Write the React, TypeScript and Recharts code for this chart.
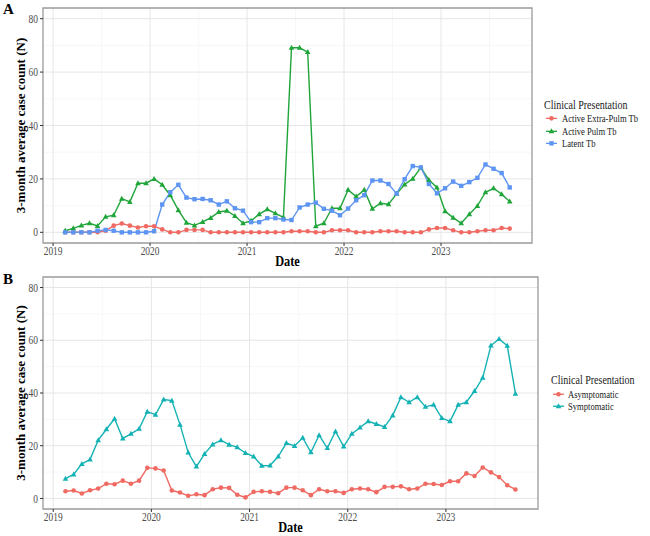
import React from 'react';
import {
  LineChart,
  Line,
  XAxis,
  YAxis,
  CartesianGrid,
  ReferenceArea,
  Legend,
  Label,
} from 'recharts';

// ---- time axis: monthly points, Feb 2019 .. Sep 2023 (plotted at mid-month) ----
const START_YEAR = 2019;
const START_MONTH = 2;
const N_MONTHS = 56;
const monthPositions: number[] = Array.from({ length: N_MONTHS }, (_, i) => {
  const m = START_MONTH - 1 + i;
  return START_YEAR + Math.floor(m / 12) + ((m % 12) + 0.5) / 12;
});

const yearTicks = [2019, 2020, 2021, 2022, 2023];
const halfYearLines = [2019.5, 2020.5, 2021.5, 2022.5, 2023.5];
const countTicks = [0, 20, 40, 60, 80];
const countMinor = [10, 30, 50, 70];

// ---- panel A: 3-month average case counts by clinical presentation ----
const extraPulmTb = [
  0, 0, 0, 0, 0, 0.6, 2.5, 3.3, 2.5, 1.8,
  2.3, 2.3, 1.1, 0, 0, 0.9, 0.9, 0.9, 0, 0,
  0, 0, 0, 0, 0, 0, 0, 0, 0.4, 0.4,
  0.4, 0, 0, 0.75, 0.75, 0.75, 0, 0, 0, 0.4,
  0.4, 0.4, 0, 0, 0, 1.1, 1.6, 1.6, 0.75, 0,
  0, 0.4, 0.75, 0.75, 1.6, 1.4,
];
const pulmTb = [
  0.6, 1.5, 2.6, 3.4, 2.4, 5.8, 6.4, 12.6, 11.4, 18.4,
  18.4, 20.0, 17.8, 13.9, 8.3, 3.6, 2.6, 3.9, 5.4, 7.6,
  8.1, 6.1, 3.4, 4.3, 6.8, 8.6, 7.1, 5.6, 69.1, 69.1,
  67.5, 2.3, 3.4, 9.0, 9.0, 15.9, 13.4, 15.9, 8.8, 10.9,
  10.5, 14.4, 17.9, 20.1, 24.2, 19.6, 16.8, 7.9, 5.5, 3.4,
  6.8, 9.9, 15.0, 16.5, 14.3, 11.5,
];
const latentTb = [
  0, 0, 0, 0, 0.6, 0.9, 0.6, 0, 0, 0,
  0, 0.4, 10.4, 15.0, 17.8, 13.0, 12.4, 12.5, 12.0, 10.4,
  11.6, 9.0, 8.1, 3.8, 3.8, 5.3, 5.3, 4.8, 4.6, 9.3,
  10.4, 11.1, 8.8, 8.1, 6.4, 8.9, 12.0, 13.9, 19.4, 19.4,
  18.1, 14.5, 19.9, 24.8, 24.3, 18.1, 14.6, 16.5, 19.0, 17.4,
  18.8, 20.4, 25.4, 23.8, 22.2, 16.8,
];

// ---- panel B: 3-month average case counts by symptom status ----
const asymptomatic = [
  2.75, 3, 1.9, 3.1, 3.75, 5.6, 5.4, 6.75, 5.6, 6.75,
  11.6, 11.4, 10.6, 3, 2.25, 1, 1.6, 1.25, 3.5, 4.1,
  4, 1.4, 0.4, 2.5, 2.75, 2.5, 2, 4.1, 4.1, 3.1,
  1.25, 3.5, 2.75, 2.75, 2.1, 3.5, 3.75, 3.5, 2.4, 4.4,
  4.4, 4.6, 3.5, 3.75, 5.6, 5.5, 5.1, 6.5, 6.5, 9.5,
  8.5, 11.75, 9.9, 8.1, 5, 3.4,
];
const symptomatic = [
  7.5, 9.1, 13.1, 14.75, 22.1, 26.25, 30.25, 22.75, 24.5, 26.4,
  32.9, 31.75, 37.5, 37.1, 28, 17.4, 12.1, 16.9, 20.5, 22.1,
  20.4, 19.4, 17.25, 15.9, 12.4, 12.5, 15.9, 21, 19.9, 23,
  17.5, 24, 19.1, 25.4, 19.75, 24.5, 26.9, 29.25, 28.25, 27.1,
  31.5, 38.4, 36.5, 38.4, 34.75, 35.5, 30.5, 29.25, 35.5, 36.5,
  40.75, 45.75, 58, 60.5, 57.9, 39.75,
];

const legendTitle = 'Clinical Presentation';

type Shape = 'circle' | 'triangle' | 'square';
type Series = { key: string; name: string; color: string; shape: Shape; values: number[] };

const seriesA: Series[] = [
  { key: 'extra', name: 'Active Extra-Pulm Tb', color: '#ef6a62', shape: 'circle', values: extraPulmTb },
  { key: 'pulm', name: 'Active Pulm Tb', color: '#1fa53a', shape: 'triangle', values: pulmTb },
  { key: 'latent', name: 'Latent Tb', color: '#5e95f2', shape: 'square', values: latentTb },
];
const seriesB: Series[] = [
  { key: 'asym', name: 'Asymptomatic', color: '#ef6a62', shape: 'circle', values: asymptomatic },
  { key: 'sym', name: 'Symptomatic', color: '#14b2b5', shape: 'triangle', values: symptomatic },
];

const buildRows = (series: Series[]) =>
  monthPositions.map((t, i) => {
    const row: Record<string, number> = { t };
    series.forEach((s) => {
      row[s.key] = s.values[i];
    });
    return row;
  });

const X_DOMAIN: [number, number] = [2018.896, 2023.938];
const Y_DOMAIN: [number, number] = [-4, 84];
const FONT = 'Liberation Serif';
// the typeface is set a little narrower than its natural width
const SQUEEZE = 0.82;

function Marker({ cx, cy, color, shape }: { cx: number; cy: number; color: string; shape: Shape }) {
  if (cx == null || cy == null || Number.isNaN(cx) || Number.isNaN(cy)) return null;
  if (shape === 'circle') return <circle cx={cx} cy={cy} r={2.3} fill={color} />;
  if (shape === 'square') return <rect x={cx - 2.2} y={cy - 2.2} width={4.4} height={4.4} fill={color} />;
  return <polygon points={`${cx},${cy - 3} ${cx - 2.8},${cy + 2} ${cx + 2.8},${cy + 2}`} fill={color} />;
}

const dotRenderer = (s: Series) => (props: any) => (
  <Marker key={`${s.key}-${props.index}`} cx={props.cx} cy={props.cy} color={s.color} shape={s.shape} />
);

function XTick(props: any) {
  const { x, y, payload } = props;
  return (
    <g transform={`translate(${x},${y})`}>
      <text
        transform={`scale(${SQUEEZE},1)`}
        textAnchor="middle"
        dy="0.71em"
        fontFamily={FONT}
        fontSize={11.5}
        fill="#4d4d4d"
      >
        {payload.value}
      </text>
    </g>
  );
}

function YTick(props: any) {
  const { x, y, payload } = props;
  return (
    <g transform={`translate(${x},${y})`}>
      <text
        transform={`scale(${SQUEEZE},1)`}
        textAnchor="end"
        dy="0.355em"
        fontFamily={FONT}
        fontSize={11.5}
        fill="#4d4d4d"
      >
        {payload.value}
      </text>
    </g>
  );
}

const squeezed = (scale: number): React.CSSProperties => ({
  display: 'inline-block',
  transform: `scaleX(${scale})`,
  transformOrigin: 'left center',
});

function LegendBox({
  series,
  titleHeight,
  rowHeight,
  keyOffset,
  textGap,
}: {
  series: Series[];
  titleHeight: number;
  rowHeight: number;
  keyOffset: number;
  textGap: number;
}) {
  return (
    <div style={{ fontFamily: FONT, color: '#1a1a1a', textAlign: 'left' }}>
      <div style={{ fontSize: 12.5, lineHeight: `${titleHeight}px`, height: titleHeight, whiteSpace: 'nowrap' }}>
        <span style={squeezed(0.8)}>{legendTitle}</span>
      </div>
      {series.map((s) => (
        <div key={s.key} style={{ display: 'flex', alignItems: 'center', height: rowHeight, whiteSpace: 'nowrap' }}>
          <svg width={11} height={rowHeight} style={{ marginLeft: keyOffset, flex: 'none', display: 'block' }}>
            <line x1={0} x2={11} y1={rowHeight / 2} y2={rowHeight / 2} stroke={s.color} strokeWidth={1.3} />
            <Marker cx={5.5} cy={rowHeight / 2} color={s.color} shape={s.shape} />
          </svg>
          <span style={{ fontSize: 11, marginLeft: textGap, lineHeight: `${rowHeight}px` }}>
            <span style={squeezed(0.78)}>{s.name}</span>
          </span>
        </div>
      ))}
    </div>
  );
}

type PanelProps = {
  series: Series[];
  width: number;
  height: number;
  top: number;
  marginTop: number;
  marginRight: number;
  legendLeft: number;
  legendTop: number;
  titleHeight: number;
  rowHeight: number;
  keyOffset: number;
  textGap: number;
  tag: string;
};

function Panel(p: PanelProps) {
  const data = buildRows(p.series);
  return (
    <div style={{ position: 'absolute', left: 0, top: p.top, width: p.width, height: p.height }}>
      <div
        style={{
          position: 'absolute',
          left: 3,
          top: 0,
          fontFamily: FONT,
          fontWeight: 'bold',
          fontSize: 15,
          lineHeight: '18px',
          color: '#000',
          zIndex: 2,
        }}
      >
        {p.tag}
      </div>
      <LineChart
        width={p.width}
        height={p.height}
        data={data}
        margin={{ top: p.marginTop, right: p.marginRight, bottom: 0, left: 0 }}
      >
        <CartesianGrid
          stroke="#f1f1f1"
          strokeWidth={0.6}
          horizontalValues={countMinor}
          verticalValues={halfYearLines}
        />
        <CartesianGrid stroke="#e6e6e6" strokeWidth={1} horizontalValues={countTicks} verticalValues={yearTicks} />
        <XAxis
          type="number"
          dataKey="t"
          domain={X_DOMAIN}
          ticks={yearTicks}
          allowDataOverflow
          interval={0}
          axisLine={false}
          tickLine={{ stroke: '#333333' }}
          tickSize={3}
          tickMargin={1}
          height={27}
          tick={<XTick />}
        >
          <Label
            content={(lp: any) => {
              const vb = lp.viewBox || {};
              const cx = vb.x + vb.width / 2;
              const by = vb.y + 22.7;
              return (
                <g transform={`translate(${cx},${by})`}>
                  <text
                    transform="scale(0.88,1)"
                    textAnchor="middle"
                    fontFamily={FONT}
                    fontWeight="bold"
                    fontSize={14}
                    fill="#000"
                  >
                    Date
                  </text>
                </g>
              );
            }}
          />
        </XAxis>
        <YAxis
          type="number"
          domain={Y_DOMAIN}
          ticks={countTicks}
          allowDataOverflow
          width={43}
          axisLine={false}
          tickLine={{ stroke: '#333333' }}
          tickSize={3}
          tickMargin={2}
          tick={<YTick />}
        >
          <Label
            content={(lp: any) => {
              const vb = lp.viewBox || {};
              const cx = 20;
              const cy = vb.y + vb.height / 2;
              return (
                <text
                  x={cx}
                  y={cy}
                  transform={`rotate(-90 ${cx} ${cy})`}
                  textAnchor="middle"
                  dominantBaseline="central"
                  fontFamily={FONT}
                  fontWeight="bold"
                  fontSize={13}
                  fill="#000"
                >
                  3-month average case count (N)
                </text>
              );
            }}
          />
        </YAxis>
        <ReferenceArea
          x1={X_DOMAIN[0]}
          x2={X_DOMAIN[1]}
          y1={Y_DOMAIN[0]}
          y2={Y_DOMAIN[1]}
          fill="none"
          stroke="#9a9a9a"
          strokeWidth={1.3}
          ifOverflow="visible"
        />
        {p.series.map((s) => (
          <Line
            key={s.key}
            type="linear"
            dataKey={s.key}
            name={s.name}
            stroke={s.color}
            strokeWidth={1.4}
            dot={dotRenderer(s)}
            activeDot={false}
            isAnimationActive={false}
          />
        ))}
        <Legend
          layout="horizontal"
          align="center"
          verticalAlign="middle"
          wrapperStyle={{ left: p.legendLeft, top: p.legendTop, width: 650 - p.legendLeft, height: 60 }}
          content={() => (
            <LegendBox
              series={p.series}
              titleHeight={p.titleHeight}
              rowHeight={p.rowHeight}
              keyOffset={p.keyOffset}
              textGap={p.textGap}
            />
          )}
        />
      </LineChart>
    </div>
  );
}

export default function App() {
  return (
    <div style={{ position: 'absolute', left: 0, top: 0, width: 650, height: 536, background: '#fff', overflow: 'hidden' }}>
      <Panel
        tag="A"
        series={seriesA}
        width={650}
        height={270}
        top={0}
        marginTop={8}
        marginRight={118}
        legendLeft={544}
        legendTop={98}
        titleHeight={14}
        rowHeight={12.7}
        keyOffset={2}
        textGap={4.5}
      />
      <Panel
        tag="B"
        series={seriesB}
        width={650}
        height={266}
        top={270}
        marginTop={7}
        marginRight={112}
        legendLeft={551}
        legendTop={103}
        titleHeight={14.5}
        rowHeight={12.5}
        keyOffset={2}
        textGap={3.7}
      />
    </div>
  );
}
